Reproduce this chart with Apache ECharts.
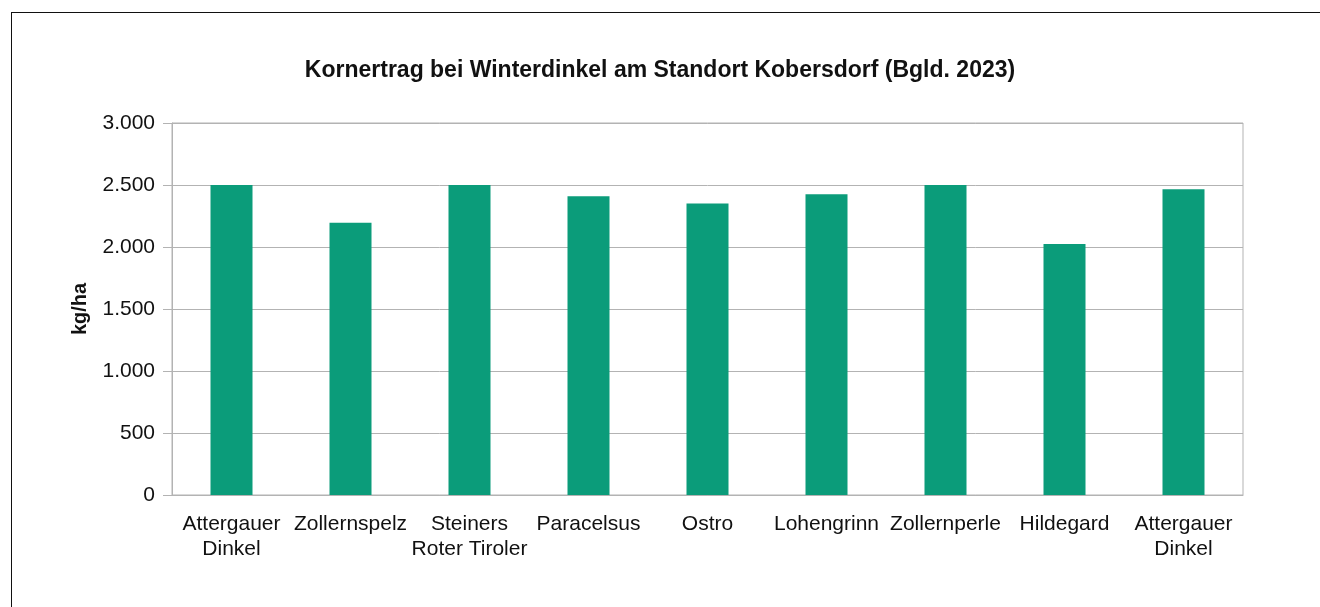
<!DOCTYPE html>
<html>
<head>
<meta charset="utf-8">
<script src="https://cdn.jsdelivr.net/npm/echarts@6/dist/echarts.min.js"></script>
<style>
  html, body { margin: 0; padding: 0; background: #fff; overflow: hidden; }
  .frame {
    position: absolute;
    left: 11px;
    top: 12px;
    width: 2000px;
    height: 2000px;
    border: 1px solid #111;
  }
  #chart { position: absolute; left: 0; top: 0; width: 1320px; height: 607px; }
</style>
</head>
<body>
<div class="frame"></div>
<div id="chart"></div>
<script>
// Sorten und Kornertrag (kg/ha)
const categories = [
  'Attergauer\nDinkel', 'Zollernspelz', 'Steiners\nRoter Tiroler', 'Paracelsus',
  'Ostro', 'Lohengrinn', 'Zollernperle', 'Hildegard', 'Attergauer\nDinkel'
]
const ertrag = [2500, 2195, 2500, 2410, 2350, 2425, 2500, 2025, 2465]
const yTicks = { min: 0, max: 3000, interval: 500 }

const fontName = '"Liberation Sans", Arial, sans-serif'

const chart = echarts.init(document.getElementById('chart'))
chart.setOption({
  animation: false,
  title: {
    text: 'Kornertrag bei Winterdinkel am Standort Kobersdorf (Bgld. 2023)',
    left: 655,
    top: 54,
    textAlign: 'center',
    textStyle: {
      fontFamily: fontName,
      fontSize: 23,
      fontWeight: 'bold',
      color: '#111'
    }
  },
  grid: {
    left: 172,
    right: 77,
    top: 123,
    bottom: 112,
    show: true,
    borderColor: '#b3b3b3',
    borderWidth: 1
  },
  xAxis: {
    type: 'category',
    data: categories,
    axisLine: { show: true, lineStyle: { color: '#b3b3b3', width: 1 } },
    axisTick: { show: false },
    axisLabel: {
      interval: 0,
      margin: 17,
      fontFamily: fontName,
      fontSize: 21,
      lineHeight: 25,
      color: '#111'
    }
  },
  yAxis: {
    type: 'value',
    min: yTicks.min,
    max: yTicks.max,
    interval: yTicks.interval,
    name: 'kg/ha',
    nameLocation: 'middle',
    nameGap: 82,
    nameTextStyle: {
      fontFamily: fontName,
      fontSize: 20,
      fontWeight: 'bold',
      color: '#111'
    },
    axisLine: { show: true, lineStyle: { color: '#b3b3b3', width: 1 } },
    axisTick: { show: true, length: 9, lineStyle: { color: '#b3b3b3' } },
    splitLine: { lineStyle: { color: '#b3b3b3', width: 1 } },
    axisLabel: {
      margin: 17,
      fontFamily: fontName,
      fontSize: 21,
      color: '#111',
      formatter: v => v >= 1000 ? (v / 1000).toFixed(3) : String(v)
    }
  },
  series: [{
    type: 'bar',
    data: ertrag,
    barWidth: 42,
    itemStyle: { color: '#0b9c7a' }
  }]
})
</script>
</body>
</html>
